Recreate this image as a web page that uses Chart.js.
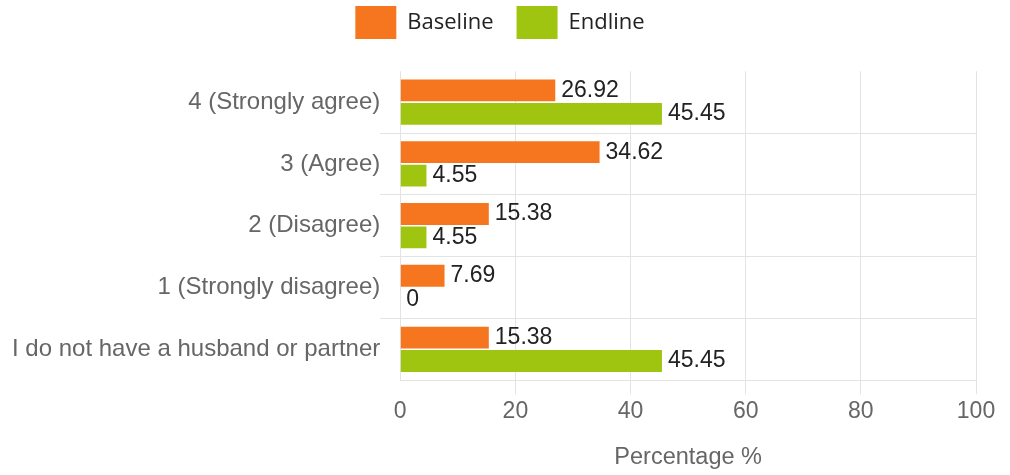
<!DOCTYPE html>
<html>
<head>
<meta charset="utf-8">
<script src="https://cdn.jsdelivr.net/npm/chart.js@4"></script>
<style>
  html, body { margin: 0; padding: 0; background: #fff; }
  #chart { display: block; }
</style>
</head>
<body>
<canvas id="chart" width="1010" height="475"></canvas>
<script>
// Ответы на утверждение, % респондентов
const categories = [
    '4 (Strongly agree)',
    '3 (Agree)',
    '2 (Disagree)',
    '1 (Strongly disagree)',
    'I do not have a husband or partner'
];
const baseline = [26.92, 34.62, 15.38, 7.69, 15.38];
const endline = [45.45, 4.55, 4.55, 0, 45.45];
const xTicks = [0, 20, 40, 60, 80, 100];

const ORANGE = '#f5761f';
const GREEN = '#a0c510';
const GRID = '#e3e3e3';
const ARIAL = '"Liberation Sans", Arial, sans-serif';

// подписи значений справа от столбцов
const valueLabels = {
    id: 'valueLabels',
    afterDatasetsDraw(chart) {
        const ctx = chart.ctx;
        ctx.save();
        ctx.font = '23px ' + ARIAL;
        ctx.fillStyle = '#222';
        ctx.textAlign = 'left';
        ctx.textBaseline = 'middle';
        chart.data.datasets.forEach((ds, i) => {
            chart.getDatasetMeta(i).data.forEach((bar, j) => {
                ctx.fillText(String(ds.data[j]), bar.x + 6, bar.y);
            });
        });
        ctx.restore();
    }
};

// легенду немного вправо
const legendShift = {
    id: 'legendShift',
    afterLayout(chart) {
        if (chart.legend) {
            chart.legend.left += 6;
            chart.legend.right += 6;
        }
    }
};

document.addEventListener('DOMContentLoaded', function() {
    const ctx = document.getElementById('chart').getContext('2d');
    new Chart(ctx, {
        type: 'bar',
        data: {
            labels: categories,
            datasets: [{
                label: 'Baseline',
                data: baseline,
                backgroundColor: ORANGE,
                borderWidth: 0
            }, {
                label: 'Endline',
                data: endline,
                backgroundColor: GREEN,
                borderWidth: 0
            }]
        },
        options: {
            indexAxis: 'y',
            responsive: false,
            animation: false,
            categoryPercentage: 0.76,
            barPercentage: 0.93,
            layout: {
                padding: { top: -17, left: 12, right: 34, bottom: 3 }
            },
            plugins: {
                legend: {
                    position: 'top',
                    labels: {
                        boxWidth: 41,
                        boxHeight: 33,
                        padding: 23,
                        color: '#222',
                        font: { family: '"Open Sans"', size: 22 }
                    }
                },
                // пустой заголовок как отступ между легендой и графиком
                title: {
                    display: true,
                    text: '',
                    weight: 100,
                    font: { size: 1 },
                    padding: { top: 0, bottom: 21 }
                },
                tooltip: { enabled: false }
            },
            scales: {
                x: {
                    min: 0,
                    max: 100,
                    afterBuildTicks(scale) {
                        scale.ticks = xTicks.map(v => ({ value: v }));
                    },
                    border: { display: false },
                    grid: {
                        color: GRID,
                        tickLength: 14,
                        tickColor: c => c.index === 0 ? 'rgba(0,0,0,0)' : GRID
                    },
                    ticks: {
                        color: '#666',
                        font: { family: ARIAL, size: 23 },
                        padding: 4,
                        maxRotation: 0
                    },
                    title: {
                        display: true,
                        text: 'Percentage %',
                        color: '#666',
                        font: { family: ARIAL, size: 23.5 },
                        padding: { top: 14, bottom: 0 }
                    }
                },
                y: {
                    border: { display: false },
                    grid: {
                        offset: true,
                        tickLength: 20,
                        color: c => c.index === 0 ? 'rgba(0,0,0,0)' : GRID,
                        tickColor: c => (c.index === 0 || c.index === undefined) ? 'rgba(0,0,0,0)' : GRID
                    },
                    ticks: {
                        color: '#666',
                        font: { family: ARIAL, size: 24 },
                        padding: 0
                    }
                }
            }
        },
        plugins: [valueLabels, legendShift]
    });
});
</script>
</body>
</html>
